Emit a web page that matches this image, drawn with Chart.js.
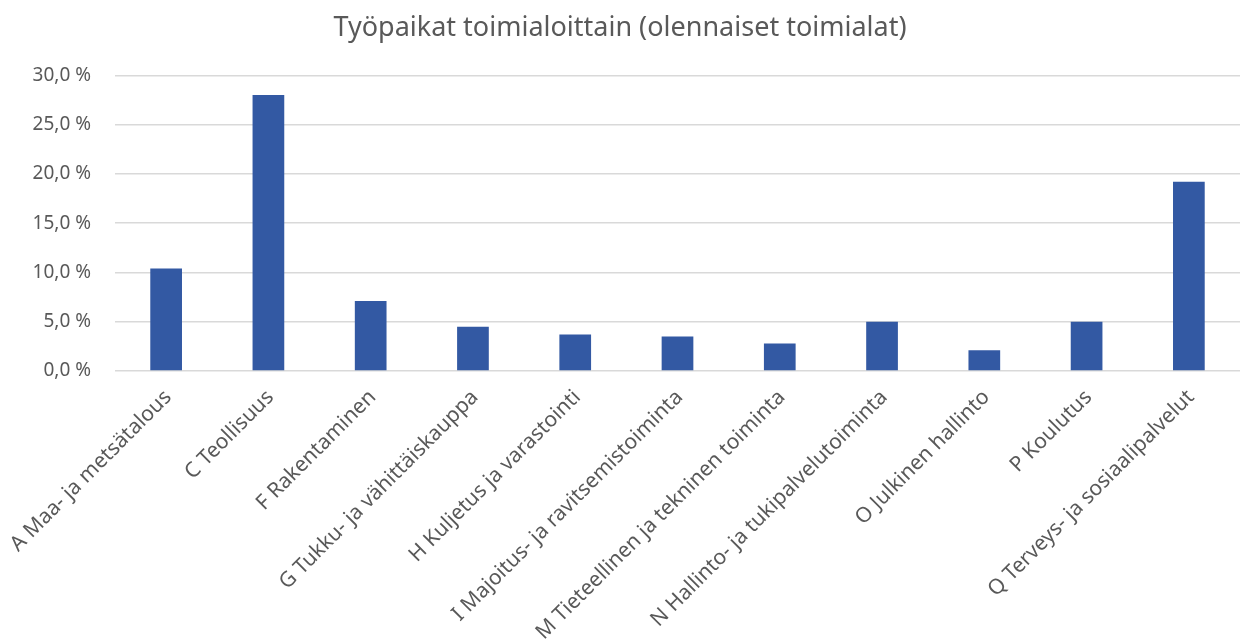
<!DOCTYPE html>
<html>
<head>
<meta charset="utf-8">
<script src="https://cdn.jsdelivr.net/npm/chart.js@4.4.1/dist/chart.umd.min.js"></script>
<style>
  html, body { margin: 0; padding: 0; background: #fff; }
  #wrap { width: 1242px; height: 643px; }
</style>
</head>
<body>
<div id="wrap"><canvas id="chart" width="1242" height="643"></canvas></div>
<script>
// Data
const categories = [
    'A Maa- ja metsätalous',
    'C Teollisuus',
    'F Rakentaminen',
    'G Tukku- ja vähittäiskauppa',
    'H Kuljetus ja varastointi',
    'I Majoitus- ja ravitsemistoiminta',
    'M Tieteellinen ja tekninen toiminta',
    'N Hallinto- ja tukipalvelutoiminta',
    'O Julkinen hallinto',
    'P Koulutus',
    'Q Terveys- ja sosiaalipalvelut'
];
const shares = [10.4, 28.0, 7.1, 4.5, 3.7, 3.5, 2.8, 5.0, 2.1, 5.0, 19.2];
const yTicks = [0, 5, 10, 15, 20, 25, 30];

const textColor = '#595959';
const fontFamily = '"Noto Sans", "Open Sans", sans-serif';

const ctx = document.getElementById('chart').getContext('2d');
new Chart(ctx, {
    type: 'bar',
    data: {
        labels: categories,
        datasets: [{
            label: 'Työpaikat',
            data: shares,
            backgroundColor: '#3359A3',
            borderWidth: 0,
            barPercentage: 0.62,
            categoryPercentage: 0.5
        }]
    },
    options: {
        responsive: false,
        animation: false,
        layout: { padding: { left: 0, right: 2, top: 0, bottom: 0 } },
        plugins: {
            legend: { display: false },
            tooltip: { enabled: false },
            title: {
                display: true,
                text: 'Työpaikat toimialoittain (olennaiset toimialat)',
                color: textColor,
                font: { family: fontFamily, size: 27, weight: 'normal' },
                padding: { top: 12, bottom: 31 }
            }
        },
        scales: {
            x: {
                grid: { display: false },
                border: { display: false },
                ticks: {
                    color: textColor,
                    font: { family: fontFamily, size: 21 },
                    minRotation: 45,
                    maxRotation: 45,
                    autoSkip: false,
                    padding: 6,
                    labelOffset: 2
                },
                afterFit: scale => { scale.height = 272; }
            },
            y: {
                min: 0,
                max: 30,
                afterBuildTicks: scale => {
                    scale.ticks = yTicks.map(v => ({ value: v }));
                },
                grid: { color: '#d9d9d9', lineWidth: 1.5, drawTicks: false },
                border: { display: false },
                ticks: {
                    color: textColor,
                    font: { family: fontFamily, size: 19 },
                    padding: 24,
                    callback: v => v.toFixed(1).replace('.', ',') + ' %'
                },
                afterFit: scale => { scale.width = 115; }
            }
        }
    }
});
</script>
</body>
</html>
